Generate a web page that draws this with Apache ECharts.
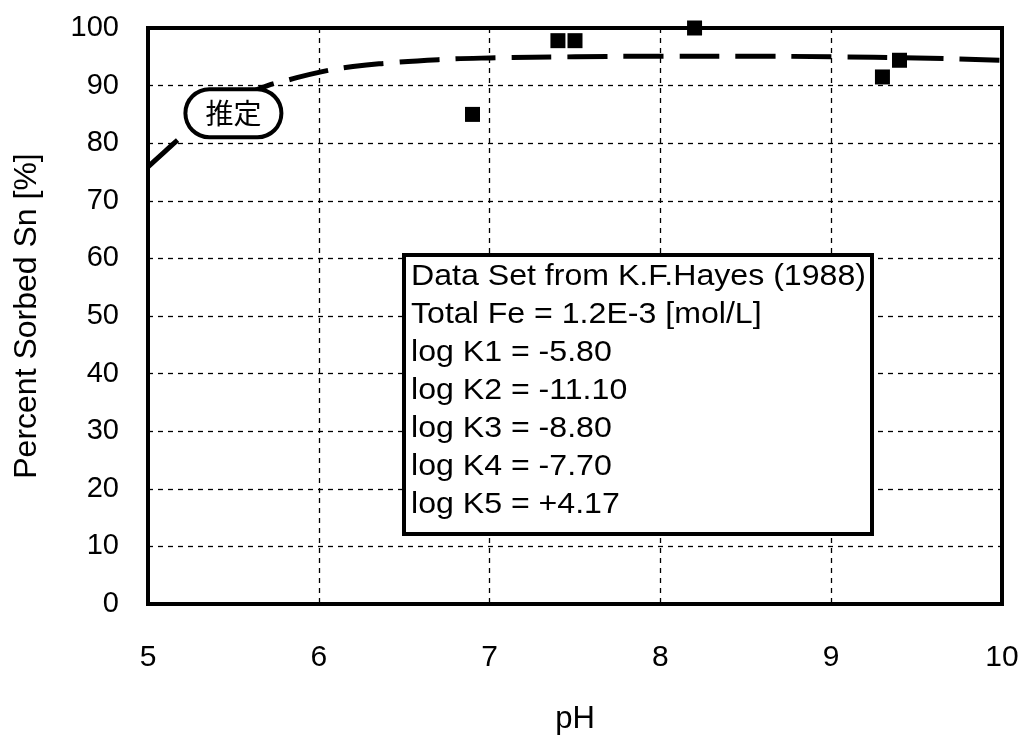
<!DOCTYPE html>
<html><head><meta charset="utf-8">
<script src="https://cdn.jsdelivr.net/npm/echarts@6/dist/echarts.min.js"></script>
<style>html,body{margin:0;padding:0;background:#fff}#c{width:1025px;height:740px}</style>
</head><body><div id="c"></div>
<script>
// measured data (pH, % sorbed)
const measuredPH = [6.9, 7.4, 7.5, 8.2, 9.3, 9.4];
const measuredSorbed = [85, 97.8, 97.8, 100, 91.5, 94.4];
// estimated (model) curve
const modelPH = [5.0, 5.1, 5.2, 5.3, 5.4, 5.5, 5.6, 5.7, 5.8, 6.0, 6.2, 6.4, 6.7, 7.0, 7.5, 8.0, 8.5, 9.0, 9.5, 10.0];
const modelSorbed = [75.9, 78.6, 81.2, 83.5, 85.5, 87.3, 88.8, 90.0, 90.8, 92.3, 93.3, 93.9, 94.5, 94.8, 95.0, 95.1, 95.1, 95.0, 94.8, 94.4];
const xTicks = [5, 6, 7, 8, 9, 10];
const yTicks = [0, 10, 20, 30, 40, 50, 60, 70, 80, 90, 100];
const annotationText = '推定';
const annotationAt = [5.5, 85.2];
const infoLines = [
  'Data Set from K.F.Hayes (1988)',
  'Total Fe = 1.2E-3 [mol/L]',
  'log K1 = -5.80',
  'log K2 = -11.10',
  'log K3 = -8.80',
  'log K4 = -7.70',
  'log K5 = +4.17'
];

const FONT = 'Liberation Sans, Arial, Helvetica, sans-serif';
const chart = echarts.init(document.getElementById('c'), null, {renderer: 'canvas'});
const gridLine = {show: true, lineStyle: {color: '#000', width: 1.3, type: [5, 5]}};
chart.setOption({
  backgroundColor: '#fff',
  animation: false,
  grid: {left: 148, right: 23, top: 28, bottom: 136, show: true, borderColor: '#000', borderWidth: 4, backgroundColor: 'transparent'},
  xAxis: {
    type: 'value', min: xTicks[0], max: xTicks[xTicks.length - 1], interval: 1,
    name: 'pH', nameLocation: 'middle', nameGap: 100,
    nameTextStyle: {fontFamily: FONT, fontSize: 31, color: '#000'},
    axisLine: {show: true, onZero: false, lineStyle: {color: '#000', width: 4}},
    axisTick: {show: false},
    axisLabel: {fontFamily: FONT, fontSize: 30, color: '#000', margin: 39},
    splitLine: gridLine
  },
  yAxis: {
    type: 'value', min: yTicks[0], max: yTicks[yTicks.length - 1], interval: 10,
    name: 'Percent Sorbed Sn [%]', nameLocation: 'middle', nameGap: 105,
    nameTextStyle: {fontFamily: FONT, fontSize: 32, color: '#000'},
    axisLine: {show: true, onZero: false, lineStyle: {color: '#000', width: 4}},
    axisTick: {show: false},
    axisLabel: {fontFamily: FONT, fontSize: 29, color: '#000', margin: 29},
    splitLine: gridLine
  },
  series: [
    {
      type: 'line', smooth: true, showSymbol: false, z: 3,
      data: modelPH.map((p, i) => [p, modelSorbed[i]]),
      lineStyle: {color: '#000', width: 5, type: [40, 16]},
      markPoint: {
        symbol: 'rect', symbolSize: 1, itemStyle: {color: 'transparent'},
        data: [{coord: annotationAt, value: annotationText}],
        label: {
          show: true, position: 'inside', formatter: annotationText,
          fontFamily: 'Noto Sans CJK JP', fontSize: 28, color: '#000',
          backgroundColor: '#fff', borderColor: '#000', borderWidth: 4, borderRadius: 25,
          padding: [8, 18, 8, 18]
        }
      }
    },
    {
      type: 'scatter', symbol: 'rect', symbolSize: 15, z: 4,
      data: measuredPH.map((p, i) => [p, measuredSorbed[i]]),
      itemStyle: {color: '#000', opacity: 1}
    }
  ],
  graphic: [
    {type: 'rect', left: 402, top: 253, z: 10, shape: {width: 468, height: 279},
     style: {fill: '#fff', stroke: '#000', lineWidth: 4}},
    {type: 'text', x: 411, y: 258, z: 11, scaleX: 1.07,
     style: {text: infoLines.join('\n'), font: '30px ' + FONT, fill: '#000', lineHeight: 38}}
  ]
});
</script></body></html>
